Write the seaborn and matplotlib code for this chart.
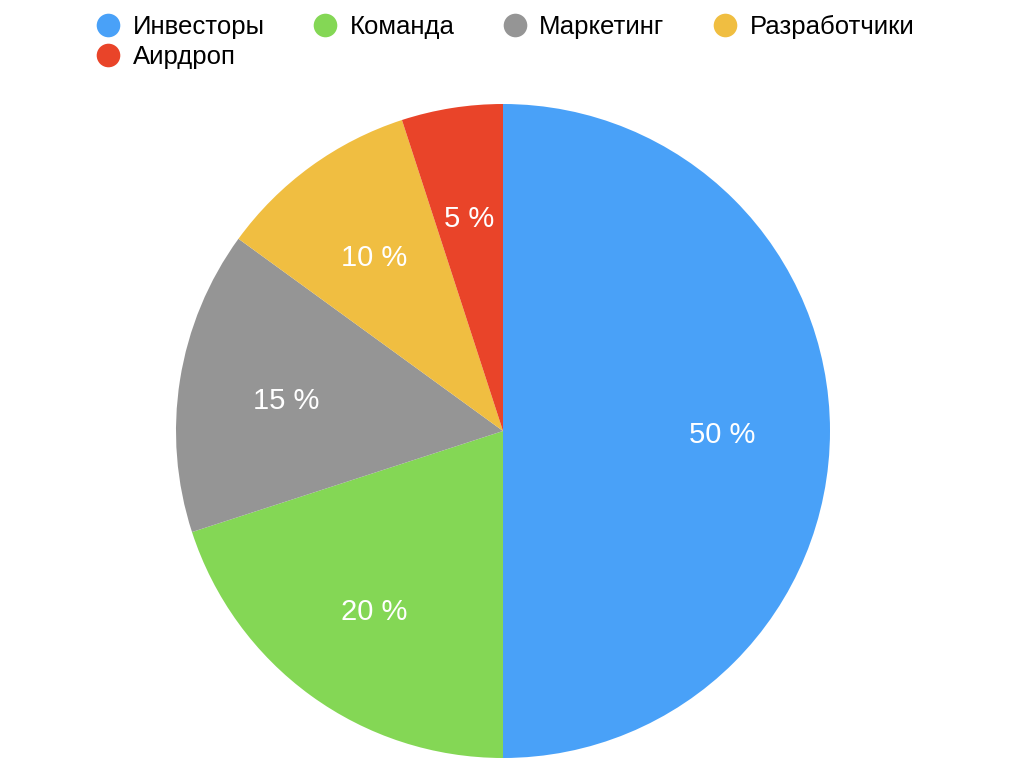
import matplotlib
matplotlib.use('Agg')
import matplotlib.pyplot as plt
import seaborn as sns
from matplotlib.lines import Line2D

categories = ['Инвесторы', 'Команда', 'Маркетинг', 'Разработчики', 'Аирдроп']
shares = [50, 20, 15, 10, 5]
colors = ['#49A1F8', '#84D755', '#959595', '#F0BE41', '#E94429']

sns.set_theme(style='white')
plt.rcParams['font.family'] = ['Liberation Sans', 'DejaVu Sans']

fig = plt.figure(figsize=(10.36, 7.84), dpi=100)
W, H = 1036, 784
cx, cy, r = 503, 784 - 431, 327
ax = fig.add_axes([(cx - r) / W, (cy - r) / H, 2 * r / W, 2 * r / H])

wedges, texts, autotexts = ax.pie(
    shares, colors=colors, startangle=90, counterclock=False,
    autopct=lambda p: '%d %%' % round(p), pctdistance=0.67,
    textprops={'color': 'white', 'fontsize': 21, 'va': 'center'},
    wedgeprops={'linewidth': 0})
for t in autotexts:
    x, y = t.get_position()
    t.set_position((x, y - 0.012))
ax.set_aspect('equal')
ax.set_xlim(-1, 1)
ax.set_ylim(-1, 1)
ax.axis('off')

handles = [Line2D([], [], marker='o', linestyle='', markersize=17,
                  markerfacecolor=c, markeredgewidth=0) for c in colors]
# legend fills column by column, reorder so rows read left to right
order = [0, 4, 1, 2, 3]
fig.legend([handles[i] for i in order], [categories[i] for i in order],
           loc='upper left', bbox_to_anchor=(0.07, 1.011),
           ncol=4, frameon=False, fontsize=18.5, labelcolor='black',
           handletextpad=0.45, columnspacing=1.85, labelspacing=0.27,
           handlelength=1.0)

fig.savefig('out.png', dpi=100)
